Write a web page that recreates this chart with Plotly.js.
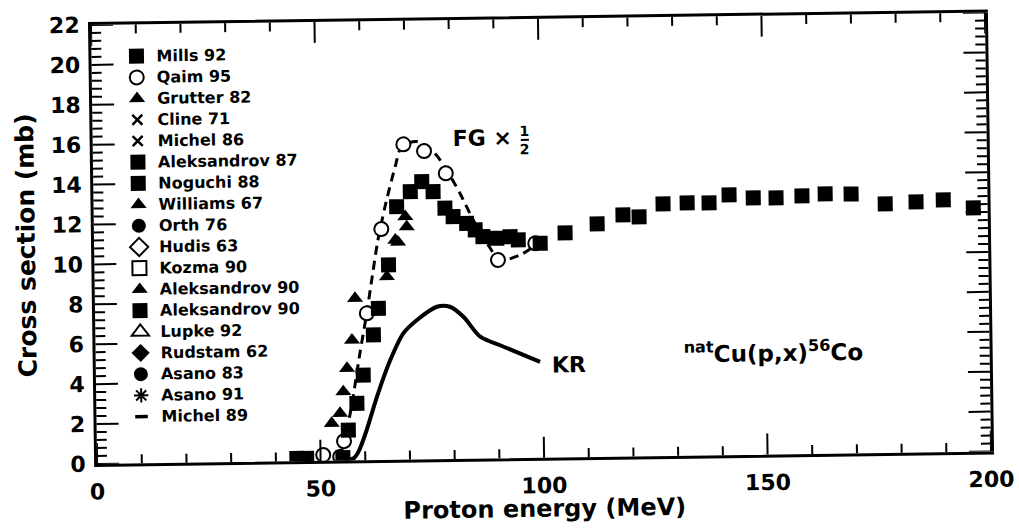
<!DOCTYPE html>
<html><head><meta charset="utf-8">
<script src="https://cdn.plot.ly/plotly-3.0.1.min.js"></script>
<style>
html,body{margin:0;padding:0;background:#fff;overflow:hidden}
#chart{width:1019px;height:529px;transform:rotate(-0.8deg);transform-origin:91px 25px;}
#chart .crisp, .js-plotly-plot .plotly .crisp{shape-rendering:geometricPrecision !important;}
</style></head><body><div id="chart"></div>
<script>
// ---- data (MeV, mb) ----
const mills92X = [105.4, 112.6, 118.4, 122.0, 127.4, 132.8, 137.7, 142.2, 147.6, 152.7, 158.5, 163.7, 169.5, 177.1, 184.0, 190.1, 196.8];
const mills92Y = [11.25, 11.68, 12.11, 12.0, 12.64, 12.67, 12.65, 13.04, 12.87, 12.86, 12.94, 13.02, 13.0, 12.48, 12.56, 12.64, 12.22];

const qaim95X = [50.6, 54.4, 55.3, 60.8, 64.3, 69.5, 74.1, 78.9, 90.3, 98.7];
const qaim95Y = [0.29, 0.19, 0.97, 7.36, 11.57, 15.8, 15.45, 14.32, 9.94, 10.75];

const grutter82X = [65.4, 67.4, 68.0, 69.7, 70.0];
const grutter82Y = [9.18, 11.01, 10.91, 12.18, 11.67];

const aleks87X = [65.8, 67.8, 70.9, 73.5, 76.0, 78.6, 80.4, 83.4, 85.3, 87.0, 90.1, 93.1, 94.9, 99.8];
const aleks87Y = [9.77, 12.68, 13.43, 13.92, 13.41, 12.58, 12.14, 11.8, 11.46, 11.12, 11.03, 11.1, 10.93, 10.75];

const aleks90TriX = [52.6, 54.5, 55.3, 56.2, 57.4, 58.2];
const aleks90TriY = [1.87, 2.37, 3.45, 4.62, 6.03, 8.12];

const aleks90SqX = [44.7, 46.9, 55.0, 56.3, 58.3, 59.8, 62.2, 63.4];
const aleks90SqY = [0.14, 0.13, 0.15, 1.52, 2.85, 4.27, 6.27, 7.6];

// series listed in the legend with no point distinguishable in the picture
const noPointX = [null];
const noPointY = [null];

const krX = [54.0, 55.5, 57.5, 58.6, 60.4, 62.8, 65.9, 68.9, 72.0, 76.5, 79.4, 82.4, 86.1, 91.3, 99.4];
const krY = [0, 0.02, 0.12, 0.47, 1.51, 3.17, 5.0, 6.33, 6.99, 7.64, 7.63, 7.12, 6.11, 5.59, 4.81];

const fgX = [53.5, 55.3, 57.0, 59.0, 60.8, 62.2, 63.4, 65.2, 67.6, 69.1, 72.5, 76.2, 79.1, 82.0, 84.9, 87.9, 90.8, 95.3, 98.3];
const fgY = [0, 1.0, 2.6, 5.2, 7.4, 9.3, 10.9, 12.69, 14.69, 15.69, 15.93, 15.41, 14.49, 13.31, 11.96, 10.79, 9.94, 10.18, 10.58];

// tick positions
const xMajorTicks = [0, 50, 100, 150, 200];
const xMinorTicks = [10, 20, 30, 40, 60, 70, 80, 90, 110, 120, 130, 140, 160, 170, 180, 190];
const yMajorTicks = [0, 2, 4, 6, 8, 10, 12, 14, 16, 18, 20, 22];
const yMinorStep = 0.4;

const xRange = [0, 200];
const yRange = [0, 22];

const FONT = 'DejaVu Sans';
const lab = s => '<span style="font-size:16px">' + s + '</span>';

function pts(name, x, y, marker) {
  return {type: 'scatter', mode: 'markers', name: lab(name), x: x, y: y,
          marker: Object.assign({color: 'black', line: {width: 0, color: 'black'}}, marker),
          hoverinfo: 'x+y'};
}

const traces = [
  {type: 'scatter', mode: 'lines', x: fgX, y: fgY, showlegend: false,
   line: {color: 'black', width: 3, dash: '9px,6px', shape: 'spline', smoothing: 0.8}},
  {type: 'scatter', mode: 'lines', x: krX, y: krY, showlegend: false,
   line: {color: 'black', width: 4, shape: 'spline', smoothing: 0.8}},
  pts('Mills 92', mills92X, mills92Y, {symbol: 'square', size: 15}),
  pts('Qaim 95', qaim95X, qaim95Y, {symbol: 'circle', size: 14, color: 'white', line: {width: 2, color: 'black'}}),
  pts('Grutter 82', grutter82X, grutter82Y, {symbol: 'triangle-up', size: 14}),
  pts('Cline 71', noPointX, noPointY, {symbol: 'x-thin-open', size: 10, line: {width: 2.5, color: 'black'}}),
  pts('Michel 86', noPointX, noPointY, {symbol: 'x-thin-open', size: 10, line: {width: 2.5, color: 'black'}}),
  pts('Aleksandrov 87', aleks87X, aleks87Y, {symbol: 'square', size: 15}),
  pts('Noguchi 88', noPointX, noPointY, {symbol: 'square', size: 15}),
  pts('Williams 67', noPointX, noPointY, {symbol: 'triangle-up', size: 14}),
  pts('Orth 76', noPointX, noPointY, {symbol: 'circle', size: 14}),
  pts('Hudis 63', noPointX, noPointY, {symbol: 'diamond-open', size: 14, line: {width: 2, color: 'black'}}),
  pts('Kozma 90', noPointX, noPointY, {symbol: 'square-open', size: 14, line: {width: 2, color: 'black'}}),
  pts('Aleksandrov 90', aleks90TriX, aleks90TriY, {symbol: 'triangle-up', size: 14}),
  pts('Aleksandrov 90', aleks90SqX, aleks90SqY, {symbol: 'square', size: 15}),
  pts('Lupke 92', noPointX, noPointY, {symbol: 'triangle-up-open', size: 15, line: {width: 2, color: 'black'}}),
  pts('Rudstam 62', noPointX, noPointY, {symbol: 'diamond', size: 14}),
  pts('Asano 83', noPointX, noPointY, {symbol: 'circle', size: 14}),
  pts('Asano 91', noPointX, noPointY, {symbol: 'asterisk-open', size: 12, line: {width: 2, color: 'black'}}),
  pts('Michel 89', noPointX, noPointY, {symbol: 'line-ew-open', size: 9, line: {width: 3.5, color: 'black'}})
];

// inward tick marks on all four sides, placed through the axis scales
const tickLine = {color: 'black', width: 2};
const tickShapes = [];
function xTick(v, len) {
  tickShapes.push({type: 'line', xref: 'x', yref: 'paper', ysizemode: 'pixel', yanchor: 0,
                   x0: v, x1: v, y0: 0, y1: len, line: tickLine, layer: 'above'});
  tickShapes.push({type: 'line', xref: 'x', yref: 'paper', ysizemode: 'pixel', yanchor: 1,
                   x0: v, x1: v, y0: 0, y1: -len, line: tickLine, layer: 'above'});
}
function yTick(v, len) {
  tickShapes.push({type: 'line', yref: 'y', xref: 'paper', xsizemode: 'pixel', xanchor: 0,
                   y0: v, y1: v, x0: 0, x1: len, line: tickLine, layer: 'above'});
  tickShapes.push({type: 'line', yref: 'y', xref: 'paper', xsizemode: 'pixel', xanchor: 1,
                   y0: v, y1: v, x0: 0, x1: -len, line: tickLine, layer: 'above'});
}
xMajorTicks.forEach(v => xTick(v, 21));
xMinorTicks.forEach(v => xTick(v, 9));
yMajorTicks.forEach(v => yTick(v, 22));
for (let k = 1; k * yMinorStep < yRange[1] - 1e-9; k++) {
  const v = +(k * yMinorStep).toFixed(2);
  if (Math.abs(v / 2 - Math.round(v / 2)) > 1e-6) yTick(v, 10);
}

const tickFont = {family: FONT, size: 22, weight: 'bold', color: 'black'};

const layout = {
  width: 1019, height: 529,
  margin: {l: 91, r: 34, t: 25, b: 65},
  paper_bgcolor: 'white', plot_bgcolor: 'white',
  font: {family: FONT, color: 'black'},
  showlegend: true,
  legend: {x: 0.028, y: 0.963, xanchor: 'left', yanchor: 'top', bgcolor: 'rgba(0,0,0,0)',
           borderwidth: 0, tracegroupgap: 0,
           font: {family: FONT, size: 14, weight: 'bold', color: 'black'}},
  xaxis: {range: xRange, tickmode: 'array', tickvals: xMajorTicks, ticktext: xMajorTicks.map(String),
    showline: true, linewidth: 3, linecolor: 'black', mirror: true,
    ticks: '', showgrid: false, zeroline: false, tickfont: tickFont, ticklabelstandoff: 6,
    title: {text: 'Proton energy (MeV)', standoff: 10, font: {family: FONT, size: 24, weight: 'bold', color: 'black'}}},
  yaxis: {range: yRange, tickmode: 'array', tickvals: yMajorTicks, ticktext: yMajorTicks.map(String),
    showline: true, linewidth: 3, linecolor: 'black', mirror: true,
    ticks: '', showgrid: false, zeroline: false, tickfont: tickFont, ticklabelstandoff: 4,
    title: {text: 'Cross section (mb)', standoff: 10, font: {family: FONT, size: 25, weight: 'bold', color: 'black'}}},
  annotations: [
    {x: 87.1, y: 16.08, xref: 'x', yref: 'y', text: 'FG ×', showarrow: false,
     font: {family: FONT, size: 22, weight: 'bold', color: 'black'}},
    {x: 96.7, y: 15.94, xref: 'x', yref: 'y', text: '1<br>2', showarrow: false,
     font: {family: FONT, size: 14, weight: 'bold', color: 'black'}},
    {x: 101.6, y: 4.64, xref: 'x', yref: 'y', text: 'KR', showarrow: false, xanchor: 'left',
     font: {family: FONT, size: 22, weight: 'bold', color: 'black'}},
    {x: 131.2, y: 5.15, xref: 'x', yref: 'y', text: '<sup>nat</sup>Cu(p,x)<sup>56</sup>Co', showarrow: false, xanchor: 'left',
     font: {family: FONT, size: 23, weight: 'bold', color: 'black'}}
  ],
  shapes: [
    {type: 'line', xref: 'x', yref: 'y', x0: 95.8, x1: 97.6, y0: 15.94, y1: 15.94,
     line: {color: 'black', width: 2}}
  ].concat(tickShapes)
};

Plotly.newPlot('chart', traces, layout, {displayModeBar: false});
</script></body></html>
